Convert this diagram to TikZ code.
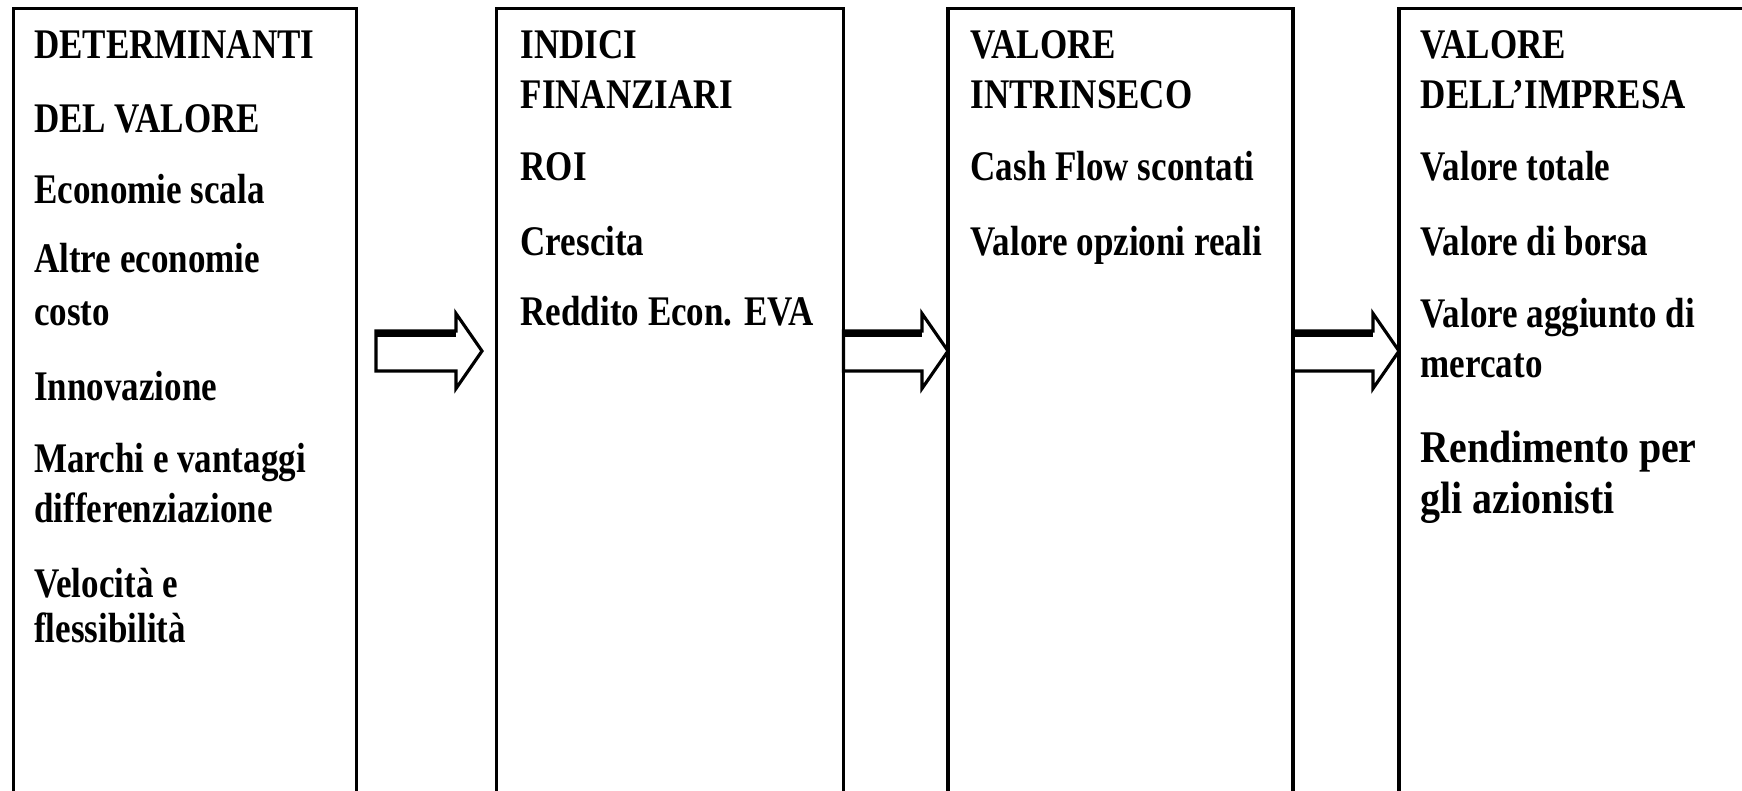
\documentclass[tikz,border=0pt]{standalone}
\usepackage{fontspec}
\setmainfont{Liberation Serif}[FakeStretch=0.83]
\newfontfamily\rendfont{Liberation Serif}[FakeStretch=0.88]
\usetikzlibrary{calc}

\tikzset{
	panel/.style={draw,rectangle,line width=0.9pt,anchor=north west,outer sep=0pt,inner sep=0pt,minimum height=8.5cm},
	item/.style={anchor=base west,inner sep=0pt,font=\fontsize{12pt}{14pt}\selectfont\bfseries},
	bigitem/.style={item,font=\rendfont\fontsize{12.9pt}{15pt}\selectfont\bfseries},
	arrowline/.style={draw,line width=0.9pt,line join=miter}
}

% block arrow from #1 (shaft end) to #2 (tip)
\newcommand\blockarrow[2]{
		\draw[arrowline] ($(#1)+(0,0.2)$) -| ($(#2)+(-0.26,0.375)$) -- (#2) -- ($(#2)+(-0.26,-0.375)$) |- ($(#1)+(0,-0.2)$) -- cycle;
		\draw[line width=2pt] ($(#1)+(0,0.175)$) -- ($(#2)+(-0.26,0.175)$);
	}

\begin{document}
\begin{tikzpicture}
		\useasboundingbox (0,0) rectangle (17.42,-7.90);
		\clip (0,0) rectangle (17.42,-7.90);
	
		% draw columns
		\node (determinanti) [panel,minimum width=3.43cm] at (0.135,-0.085) {};
		\node (indici) [panel,minimum width=3.47cm] at (4.965,-0.085) {};
		\node (intrinseco) [panel,minimum width=3.45cm] at (9.48,-0.085) {};
		\node (impresa) [panel,minimum width=3.46cm] at (13.99,-0.085) {};
	
		% draw text of first column
		\foreach \y/\t [count=\i] in {0.58/DETERMINANTI,1.32/DEL VALORE,2.03/Economie scala,2.72/Altre economie,3.25/costo,4.00/Innovazione,4.72/Marchi e vantaggi,5.22/differenziazione,5.97/Velocità e,6.42/flessibilità}
		{
			\node (determinanti-\i) [item] at (0.335,-\y) {\t};
		}
		
		% draw text of second column
		\foreach \y/\t [count=\i] in {0.58/INDICI,1.08/FINANZIARI,1.80/ROI,2.55/Crescita,3.25/Reddito Econ. EVA}
		{
			\node (indici-\i) [item] at (5.20,-\y) {\t};
		}
		
		% draw text of third column
		\foreach \y/\t [count=\i] in {0.58/VALORE,1.08/INTRINSECO,1.80/Cash Flow scontati,2.55/Valore opzioni reali}
		{
			\node (intrinseco-\i) [item] at (9.70,-\y) {\t};
		}
		
		% draw text of fourth column
		\foreach \y/\t [count=\i] in {0.58/VALORE,1.08/DELL’IMPRESA,1.80/Valore totale,2.55/Valore di borsa,3.27/Valore aggiunto di,3.77/mercato}
		{
			\node (impresa-\i) [item] at (14.20,-\y) {\t};
		}
		\node (impresa-7) [bigitem] at (14.20,-4.62) {Rendimento per};
		\node (impresa-8) [bigitem] at (14.20,-5.13) {gli azionisti};
		
		% draw arrows
		\coordinate (mid) at (0,-3.51);
		\coordinate (a1) at ($(determinanti.east |- mid)+(0.195,0)$);
		\coordinate (b1) at ($(indici.west |- mid)+(-0.145,0)$);
		\coordinate (a2) at (indici.east |- mid);
		\coordinate (b2) at (intrinseco.west |- mid);
		\coordinate (a3) at (intrinseco.east |- mid);
		\coordinate (b3) at (impresa.west |- mid);
		\blockarrow{a1}{b1}
		\blockarrow{a2}{b2}
		\blockarrow{a3}{b3}
	\end{tikzpicture}
\end{document}
